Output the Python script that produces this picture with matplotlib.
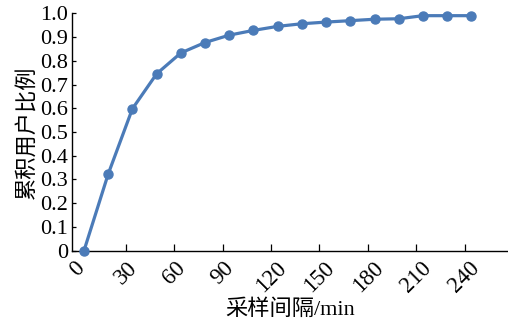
import matplotlib
matplotlib.use("Agg")
import matplotlib.pyplot as plt

plt.rcParams['font.family'] = ['Liberation Serif', 'Noto Sans CJK SC']

# Sampling interval (min) and cumulative share of users
interval_min = [0, 15, 30, 45, 60, 75, 90, 105, 120, 135, 150, 165, 180, 195, 210, 225, 240]
cum_ratio = [0.0, 0.323, 0.598, 0.745, 0.833, 0.877, 0.908, 0.928, 0.945, 0.956, 0.963,
             0.969, 0.975, 0.977, 0.990, 0.990, 0.990]

x_ticks = [0, 30, 60, 90, 120, 150, 180, 210, 240]
x_tick_labels = ['0', '30', '60', '90', '120', '150', '180', '210', '240']
y_ticks = [0.0, 0.1, 0.2, 0.3, 0.4, 0.5, 0.6, 0.7, 0.8, 0.9, 1.0]
y_tick_labels = ['0', '0.1', '0.2', '0.3', '0.4', '0.5', '0.6', '0.7', '0.8', '0.9', '1.0']

fig = plt.figure(figsize=(5.08, 3.22), dpi=100)
ax = fig.add_axes([0.1423, 0.2214, 0.8577, 0.7373])

color = '#4b7bb8'
ax.plot(interval_min, cum_ratio, color=color, lw=2.3, marker='o', ms=6.5,
        markeredgecolor=color, markerfacecolor=color, clip_on=False, zorder=3)

# category-style tick placement: tick marks sit slightly left of the sample points
tick_shift = 4.15
ax.set_xticks([t - tick_shift for t in x_ticks])
ax.set_xticklabels(x_tick_labels, rotation=45, ha='center')
ax.set_yticks(y_ticks)
ax.set_yticklabels(y_tick_labels)
ax.set_xlim(-7.25, 262.7)
ax.set_ylim(0, 1.0)

for s in ('top', 'right'):
    ax.spines[s].set_visible(False)
for s in ('left', 'bottom'):
    ax.spines[s].set_linewidth(1.0)
    ax.spines[s].set_color('black')

ax.tick_params(axis='x', direction='in', length=5, width=0.9, pad=5, labelsize=16.5)
ax.tick_params(axis='y', direction='in', length=3, width=0.9, pad=3, labelsize=16)
ax.xaxis.get_major_ticks()[0].tick1line.set_visible(False)

ax.set_xlabel('采样间隔/min', fontsize=16, labelpad=2)
ax.set_ylabel('累积用户比例', fontsize=16, labelpad=1)

fig.savefig('out.png', dpi=100)
